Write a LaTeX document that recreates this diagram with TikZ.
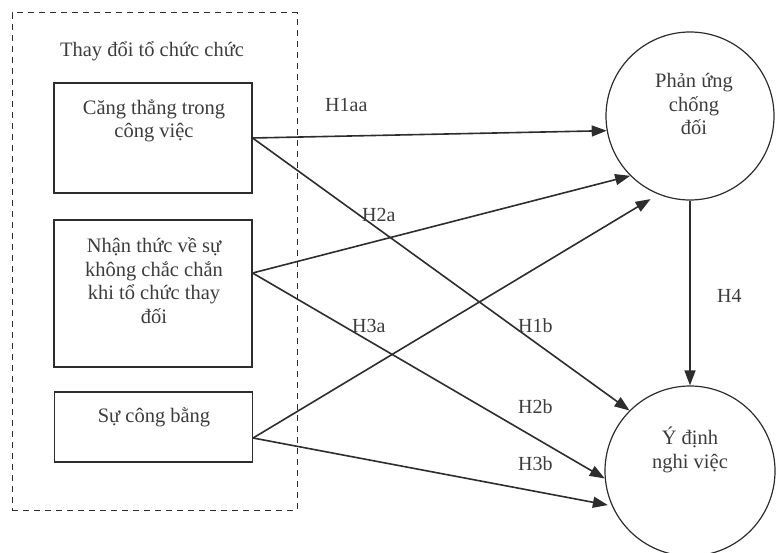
\documentclass[tikz,border=0pt]{standalone}
\usepackage{fontspec}
\setmainfont{Liberation Serif}
\usetikzlibrary{arrows.meta}
\definecolor{ink}{RGB}{45,45,45}
\definecolor{txt}{RGB}{60,60,60}
\begin{document}
\begin{tikzpicture}[x=1pt,y=1pt,
  every node/.style={inner sep=0pt, text=txt},
  bodytext/.style={font=\fontsize{20.5}{23.5}\selectfont, align=center, anchor=base},
  hlabel/.style={font=\fontsize{20}{22}\selectfont, anchor=base west},
  varbox/.style={draw=ink, line width=1.2pt, rectangle, minimum width=198pt},
  varcirc/.style={draw=ink, line width=1.2pt, circle},
  group/.style={draw=ink, line width=1pt, dash pattern=on 6pt off 5pt},
  link/.style={draw=ink, line width=1.6pt, -{Triangle[length=15pt,width=11pt]}}]
\useasboundingbox (0,0) rectangle (778,552);
% group box
\node[group, rectangle, minimum width=285pt, minimum height=497pt] (grp) at (154.5,290.5) {};
\node[bodytext] (title) at (152,495) {Thay đổi tổ chức chức};
% boxes
\node[varbox, minimum height=110pt] (b1) at (153,414) {};
\node[varbox, minimum height=147pt] (b2) at (153,258.5) {};
\node[varbox, minimum height=70pt] (b3) at (153.5,125) {};
% multi-line texts: base anchor is the baseline of the last line
\node[bodytext] (t1) at (154,414) {Căng thẳng trong\\công việc};
\node[bodytext] (t2) at (154,229) {Nhận thức về sự\\không chắc chắn\\khi tổ chức thay\\đối};
\node[bodytext] (t3) at (154,130) {Sự công bằng};
% circles
\node[varcirc, minimum size=168pt] (c1) at (690,436) {};
\node[varcirc, minimum size=170pt] (c2) at (690,81) {};
\node[bodytext] (tc1) at (694,417) {Phản ứng\\chống\\đối};
\node[bodytext] (tc2) at (690,84) {Ý định\\nghi việc};
% source points
\coordinate (s1) at (b1.east);
\coordinate (s2) at ([yshift=20.5pt]b2.east);
\coordinate (s3) at ([yshift=-11pt]b3.east);
% connectors
\draw[link] (s1) -- (c1.190);
\draw[link] (s1) -- (c2.135);
\draw[link] (s2) -- (c1.225);
\draw[link] (s2) -- (c2.185);
\draw[link, shorten >=9pt] (s3) -- (c1.248);
\draw[link, shorten >=4pt] (s3) -- (c2.204);
\draw[link] (c1.south) -- (c2.north);
% labels
\node[hlabel] (l1) at (325,440) {H1aa};
\node[hlabel] (l2) at (362,330) {H2a};
\node[hlabel] (l3) at (352,220) {H3a};
\node[hlabel] (l4) at (518,220) {H1b};
\node[hlabel] (l5) at (518,139) {H2b};
\node[hlabel] (l6) at (518,82) {H3b};
\node[hlabel] (l7) at (717,250) {H4};
\end{tikzpicture}
\end{document}
